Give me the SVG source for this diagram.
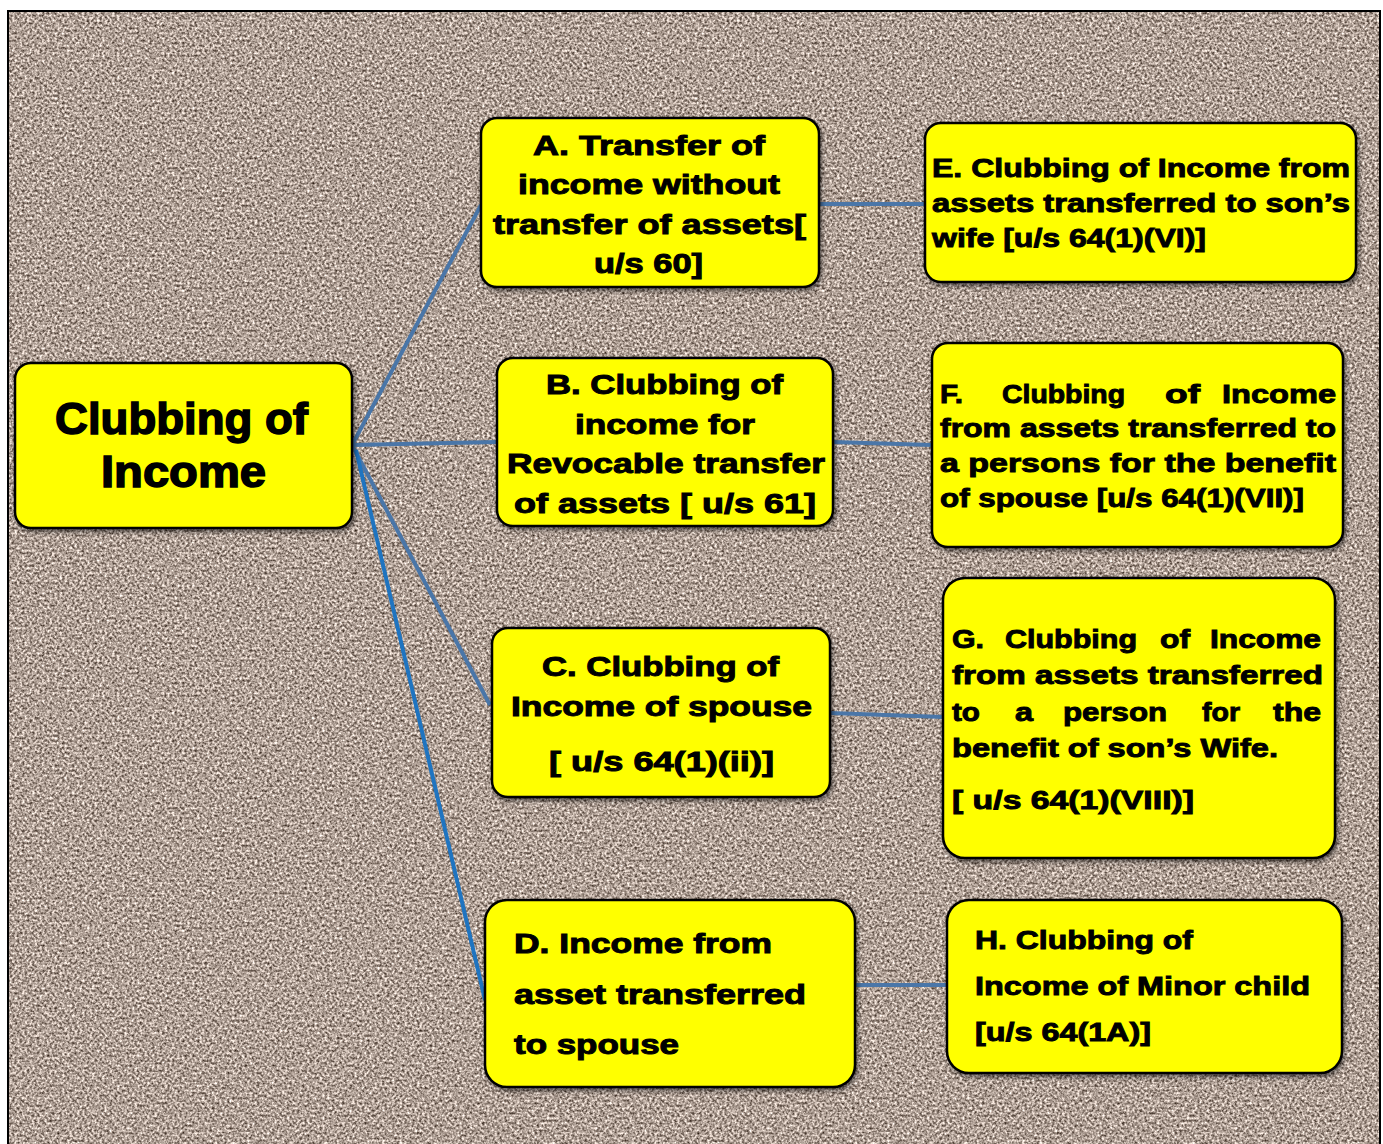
<svg xmlns="http://www.w3.org/2000/svg" width="1383" height="1144" viewBox="0 0 1383 1144">
<defs>
<filter id="grain" x="0" y="0" width="100%" height="100%" filterUnits="objectBoundingBox" color-interpolation-filters="sRGB">
<feTurbulence type="fractalNoise" baseFrequency="0.4" numOctaves="2" seed="7" result="n"/>
<feColorMatrix in="n" type="matrix" values="1.25 0 0 0 0.06  1.25 0 0 0 0.0  1.25 0 0 0 -0.04  0 0 0 0 1"/>
</filter>
<filter id="shadow" x="-5%" y="-5%" width="115%" height="120%">
<feDropShadow dx="2" dy="3" stdDeviation="2" flood-color="#000" flood-opacity="0.5"/>
</filter>
<style>
.box{fill:#ffff00;stroke:#000;stroke-width:2.5;filter:url(#shadow)}
.t{font-family:"Liberation Sans",Arial,sans-serif;font-weight:bold;fill:#000;stroke:#000;stroke-width:1;font-size:28px}
.big{font-size:44px;stroke-width:1.5}
.e{font-size:25px;stroke-width:0.9}
.c{stroke:#4a76a8;stroke-width:4;fill:none}
.c2{stroke:#1f74c0;stroke-width:4;fill:none}
</style>
</defs>
<rect x="0" y="0" width="1383" height="1144" fill="#fff"/>
<rect x="8" y="11" width="1372" height="1140" filter="url(#grain)"/>
<rect x="8" y="11" width="1372" height="1140" fill="none" stroke="#000" stroke-width="2"/>

<g id="connectors">
<line class="c" x1="352" y1="445" x2="481" y2="205"/>
<line class="c" x1="352" y1="445" x2="497" y2="442"/>
<line class="c" x1="352" y1="445" x2="490" y2="705"/>
<line class="c2" x1="356" y1="450" x2="485" y2="1000"/>
<line class="c" x1="819" y1="204" x2="925" y2="204"/>
<line class="c" x1="833" y1="442" x2="932" y2="445"/>
<line class="c" x1="830" y1="713" x2="943" y2="717"/>
<line class="c" x1="855" y1="985" x2="947" y2="985"/>
</g>

<g id="root">
<rect class="box" x="15" y="363" width="337" height="165" rx="16"/>
<text class="t big" x="55" y="434" textLength="253" lengthAdjust="spacingAndGlyphs">Clubbing of</text>
<text class="t big" x="101" y="487" textLength="165" lengthAdjust="spacingAndGlyphs">Income</text>
</g>

<g id="nodeA">
<rect class="box" x="481" y="118" width="338" height="169" rx="16"/>
<text class="t" x="533" y="155" textLength="232" lengthAdjust="spacingAndGlyphs">A. Transfer of</text>
<text class="t" x="518" y="194" textLength="262" lengthAdjust="spacingAndGlyphs">income without</text>
<text class="t" x="493" y="234" textLength="313" lengthAdjust="spacingAndGlyphs">transfer of assets[</text>
<text class="t" x="594" y="273" textLength="109" lengthAdjust="spacingAndGlyphs">u/s 60]</text>
</g>

<g id="nodeB">
<rect class="box" x="497" y="358" width="336" height="168" rx="16"/>
<text class="t" x="546" y="394" textLength="237" lengthAdjust="spacingAndGlyphs">B. Clubbing of</text>
<text class="t" x="575" y="434" textLength="180" lengthAdjust="spacingAndGlyphs">income for</text>
<text class="t" x="507" y="473" textLength="318" lengthAdjust="spacingAndGlyphs">Revocable transfer</text>
<text class="t" x="514" y="513" textLength="302" lengthAdjust="spacingAndGlyphs">of assets [ u/s 61]</text>
</g>

<g id="nodeC">
<rect class="box" x="492" y="628" width="338" height="169" rx="16"/>
<text class="t" x="542" y="676" textLength="237" lengthAdjust="spacingAndGlyphs">C. Clubbing of</text>
<text class="t" x="511" y="716" textLength="301" lengthAdjust="spacingAndGlyphs">Income of spouse</text>
<text class="t" x="549" y="771" textLength="225" lengthAdjust="spacingAndGlyphs">[ u/s 64(1)(ii)]</text>
</g>

<g id="nodeD">
<rect class="box" x="485" y="900" width="370" height="187" rx="22"/>
<text class="t" x="514" y="953" textLength="258" lengthAdjust="spacingAndGlyphs">D. Income from</text>
<text class="t" x="514" y="1004" textLength="292" lengthAdjust="spacingAndGlyphs">asset transferred</text>
<text class="t" x="514" y="1054" textLength="165" lengthAdjust="spacingAndGlyphs">to spouse</text>
</g>

<g id="nodeE">
<rect class="box" x="925" y="123" width="431" height="159" rx="16"/>
<text class="t e" x="932" y="177" textLength="418" lengthAdjust="spacingAndGlyphs">E. Clubbing of Income from</text>
<text class="t e" x="932" y="212" textLength="418" lengthAdjust="spacingAndGlyphs">assets transferred to son’s</text>
<text class="t e" x="932" y="247" textLength="274" lengthAdjust="spacingAndGlyphs">wife [u/s 64(1)(VI)]</text>
</g>

<g id="nodeF">
<rect class="box" x="932" y="343" width="411" height="204" rx="16"/>
<text class="t e" y="403"><tspan x="940" textLength="23" lengthAdjust="spacingAndGlyphs">F.</tspan> <tspan x="1002" textLength="123" lengthAdjust="spacingAndGlyphs">Clubbing</tspan> <tspan x="1165" textLength="35" lengthAdjust="spacingAndGlyphs">of</tspan> <tspan x="1222" textLength="114" lengthAdjust="spacingAndGlyphs">Income</tspan></text>
<text class="t e" x="940" y="437" textLength="396" lengthAdjust="spacingAndGlyphs">from assets transferred to</text>
<text class="t e" x="940" y="472" textLength="396" lengthAdjust="spacingAndGlyphs">a persons for the benefit</text>
<text class="t e" x="940" y="507" textLength="364" lengthAdjust="spacingAndGlyphs">of spouse [u/s 64(1)(VII)]</text>
</g>

<g id="nodeG">
<rect class="box" x="943" y="578" width="392" height="280" rx="22"/>
<text class="t e" y="648"><tspan x="952" textLength="32" lengthAdjust="spacingAndGlyphs">G.</tspan> <tspan x="1005" textLength="132" lengthAdjust="spacingAndGlyphs">Clubbing</tspan> <tspan x="1160" textLength="30" lengthAdjust="spacingAndGlyphs">of</tspan> <tspan x="1210" textLength="111" lengthAdjust="spacingAndGlyphs">Income</tspan></text>
<text class="t e" x="952" y="684" textLength="371" lengthAdjust="spacingAndGlyphs">from assets transferred</text>
<text class="t e" y="721"><tspan x="952" textLength="28" lengthAdjust="spacingAndGlyphs">to</tspan> <tspan x="1015" textLength="18" lengthAdjust="spacingAndGlyphs">a</tspan> <tspan x="1063" textLength="104" lengthAdjust="spacingAndGlyphs">person</tspan> <tspan x="1202" textLength="38" lengthAdjust="spacingAndGlyphs">for</tspan> <tspan x="1273" textLength="48" lengthAdjust="spacingAndGlyphs">the</tspan></text>
<text class="t e" x="952" y="757" textLength="326" lengthAdjust="spacingAndGlyphs">benefit of son’s Wife.</text>
<text class="t e" x="952" y="809" textLength="242" lengthAdjust="spacingAndGlyphs">[ u/s 64(1)(VIII)]</text>
</g>

<g id="nodeH">
<rect class="box" x="947" y="900" width="395" height="173" rx="22"/>
<text class="t e" x="975" y="949" textLength="218" lengthAdjust="spacingAndGlyphs">H. Clubbing of</text>
<text class="t e" x="975" y="995" textLength="335" lengthAdjust="spacingAndGlyphs">Income of Minor child</text>
<text class="t e" x="975" y="1041" textLength="176" lengthAdjust="spacingAndGlyphs">[u/s 64(1A)]</text>
</g>
</svg>
